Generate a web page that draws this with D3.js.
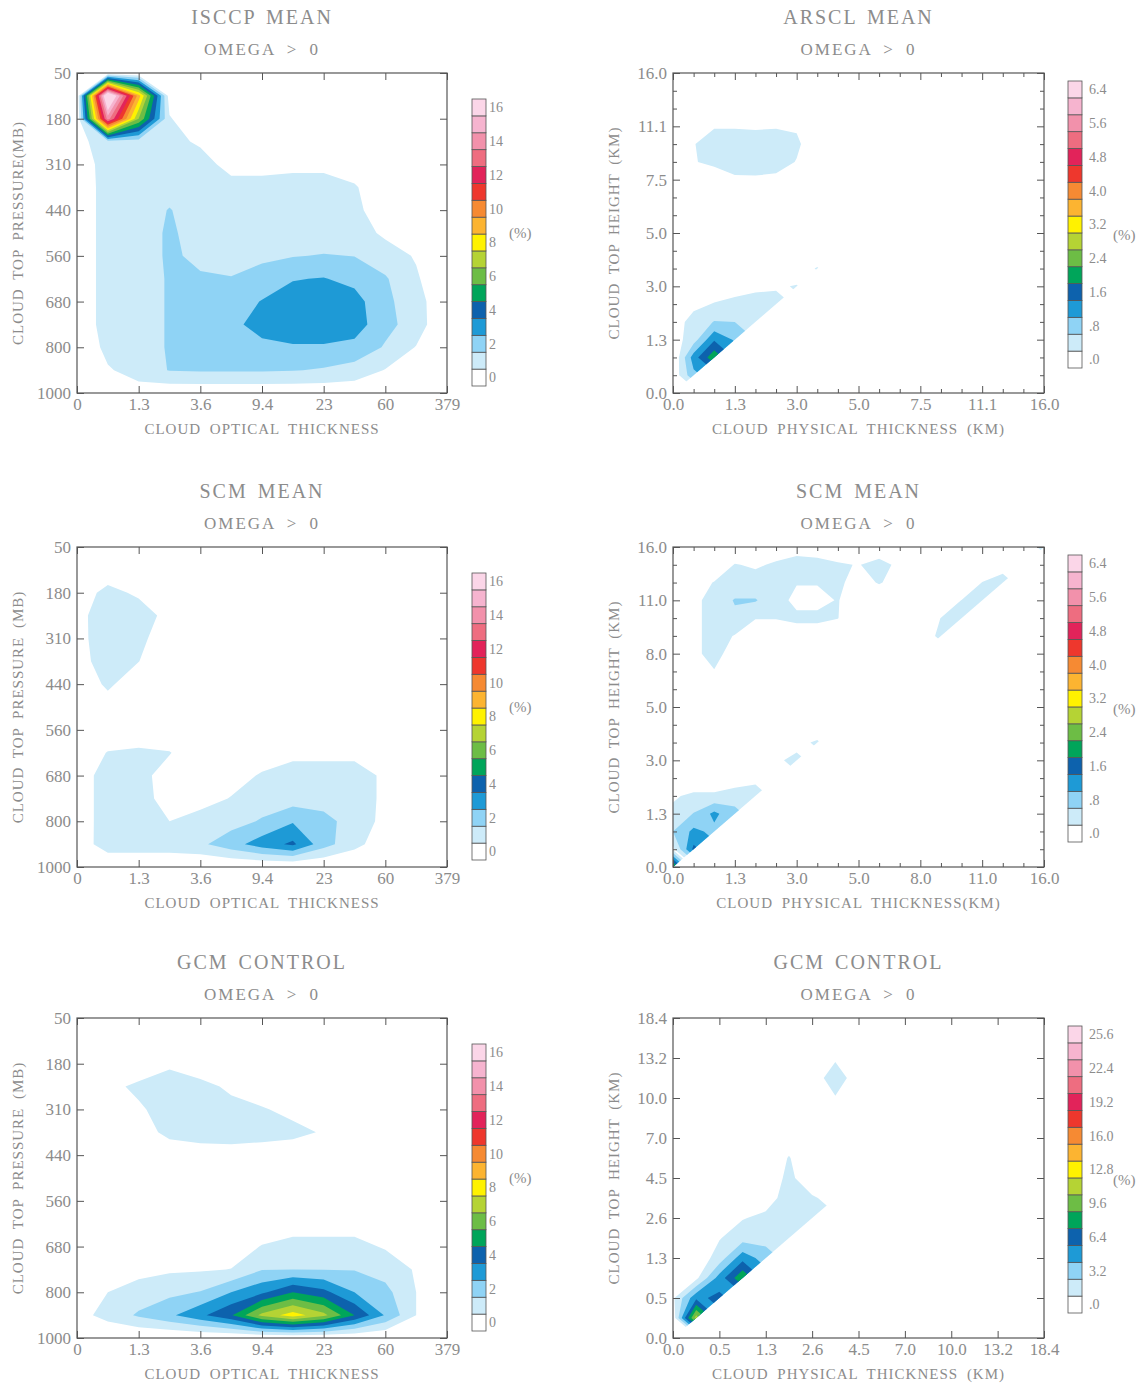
<!DOCTYPE html>
<html>
<head>
<meta charset="utf-8">
<script src="https://cdn.jsdelivr.net/npm/d3@7"></script>
<style>
  body { margin: 0; background: #fff; }
  svg text { font-family: "Liberation Serif", "DejaVu Serif", serif; fill: #8c8c8c; }
</style>
</head>
<body>
<svg id="chart" width="1148" height="1389"></svg>
<script>
// colour for each contour level, index 0 = below first level
const levelColors = ['#ffffff', '#cdebf9', '#8fd3f5', '#1e9ad6', '#0d62ad', '#00a55a', '#6dbd45', '#b5d334',
  '#fff200', '#fcb431', '#f68a33', '#ee372d', '#e2235a', '#ee6d80', '#f291ab', '#f6b4cf', '#fbd6e8']

// axis tick labels
const opticalTicks = ['0', '1.3', '3.6', '9.4', '23', '60', '379']
const pressureTicks = ['1000', '800', '680', '560', '440', '310', '180', '50']
const arsclTicks = ['0.0', '1.3', '3.0', '5.0', '7.5', '11.1', '16.0']
const scmHeightTicks = ['0.0', '1.3', '3.0', '5.0', '8.0', '11.0', '16.0']
const gcmHeightTicks = ['0.0', '0.5', '1.3', '2.6', '4.5', '7.0', '10.0', '13.2', '18.4']

// colour bar labels (every second box)
const pctLabels = ['0', '2', '4', '6', '8', '10', '12', '14', '16']
const arsclLabels = ['.0', '.8', '1.6', '2.4', '3.2', '4.0', '4.8', '5.6', '6.4']
const gcmHeightLabels = ['.0', '3.2', '6.4', '9.6', '12.8', '16.0', '19.2', '22.4', '25.6']

// frequency (%) on half-bin nodes, rows from 50 mb (top) to 1000 mb (bottom)
const isccpGrid = [
  [0, 0, 0, 0, 0, 0, 0, 0, 0, 0, 0, 0, 0],
  [0, 18.5, 9.5, 0.5, 0, 0, 0, 0, 0, 0, 0, 0, 0],
  [0, 14.5, 7, 1.1, 0, 0, 0, 0, 0, 0, 0, 0, 0],
  [0.7, 1.5, 1.5, 1.5, 0.75, 0, 0, 0, 0, 0, 0, 0, 0],
  [0.3, 1.5, 1.5, 1.5, 1.7, 0.4, 0.5, 0.7, 0.7, 0.5, 0, 0, 0],
  [0.2, 1.5, 1.5, 1.6, 1.7, 1.6, 1.5, 1.5, 1.5, 1.1, 0.3, 0, 0],
  [0.2, 1.5, 1.5, 2.05, 1.5, 1.5, 1.5, 1.5, 1.5, 1.3, 0.3, 0, 0],
  [0.2, 1.5, 1.5, 2.15, 1.6, 1.5, 1.5, 1.5, 1.5, 1.5, 0.8, 0, 0],
  [0.2, 1.5, 1.5, 2.15, 1.8, 1.6, 1.8, 1.95, 2.05, 1.98, 1.5, 0.9, 0],
  [0.2, 1.5, 1.5, 2.1, 2.1, 2.05, 2.4, 2.95, 3.05, 2.7, 2.1, 1.15, 0],
  [0.2, 1.5, 1.5, 2.1, 2.2, 2.5, 3.05, 3.4, 3.5, 3.4, 2.2, 1.5, 0],
  [0.2, 1.5, 1.5, 2.1, 2.3, 2.8, 3.3, 3.6, 3.6, 3.5, 2.3, 1.55, 0],
  [0.1, 1.3, 1.5, 2.1, 2.3, 2.5, 2.8, 2.9, 2.9, 2.7, 1.9, 0.95, 0],
  [0, 0.9, 1.4, 2.05, 2.1, 2.1, 2.1, 2.05, 1.9, 1.6, 0.95, 0.5, 0],
  [0, 0.3, 0.6, 0.3, 0.3, 0.3, 0.3, 0.3, 0.3, 0.3, 0.2, 0, 0]
]

const scmPressureGrid = [
  [0, 0, 0, 0, 0, 0, 0, 0, 0, 0, 0, 0, 0],
  [0, 0.3, 0.2, 0, 0, 0, 0, 0, 0, 0, 0, 0, 0],
  [0.37, 1.35, 0.8, 0.2, 0, 0, 0, 0, 0, 0, 0, 0, 0],
  [0.67, 1.6, 1.6, 0.6, 0, 0, 0, 0, 0, 0, 0, 0, 0],
  [0.65, 1.6, 1.3, 0.3, 0, 0, 0, 0, 0, 0, 0, 0, 0],
  [0.5, 1.6, 1.02, 0.2, 0, 0, 0, 0, 0, 0, 0, 0, 0],
  [0.2, 1.2, 0.3, 0, 0, 0, 0, 0, 0, 0, 0, 0, 0],
  [0, 0.5, 0, 0, 0, 0, 0, 0, 0, 0, 0, 0, 0],
  [0.3, 0.3, 0.3, 0.3, 0, 0, 0, 0, 0, 0, 0, 0, 0],
  [0.3, 1.05, 1.2, 1.05, 0.3, 0.3, 0.5, 0.7, 0.7, 0.7, 0.5, 0.2, 0],
  [0.4, 1.5, 1.3, 0.6, 0.3, 0.6, 1.1, 1.5, 1.5, 1.5, 0.8, 0.2, 0],
  [0.4, 1.5, 1.3, 0.7, 0.6, 1.05, 1.5, 1.5, 1.6, 1.5, 0.8, 0.2, 0],
  [0.4, 1.5, 1.4, 1.0, 1.4, 1.6, 2.1, 2.9, 2.3, 1.6, 0.7, 0.2, 0],
  [0.3, 1.6, 1.6, 1.6, 1.8, 2.6, 3.5, 4.2, 2.4, 1.3, 0.4, 0, 0],
  [0, 0, 0, 0, 0, 0, 0, 0, 0, 0, 0, 0, 0]
]

const gcmPressureGrid = [
  [0, 0, 0, 0, 0, 0, 0, 0, 0, 0, 0, 0, 0],
  [0, 0, 0, 0, 0, 0, 0, 0, 0, 0, 0, 0, 0],
  [0, 0, 0, 0.8, 0, 0, 0, 0, 0, 0, 0, 0, 0],
  [0, 0.6, 1.3, 1.6, 1.5, 0.7, 0.3, 0, 0, 0, 0, 0, 0],
  [0, 0.2, 0.8, 1.6, 1.6, 1.5, 1.1, 0.7, 0.3, 0, 0, 0, 0],
  [0, 0, 0.4, 1.35, 1.64, 1.55, 1.38, 1.3, 0.9, 0, 0, 0, 0],
  [0, 0, 0, 0.2, 0.3, 0.5, 0.5, 0.3, 0.2, 0, 0, 0, 0],
  [0, 0, 0, 0, 0, 0, 0, 0, 0, 0, 0, 0, 0],
  [0, 0, 0, 0, 0, 0, 0, 0, 0, 0, 0, 0, 0],
  [0, 0, 0, 0, 0, 0.2, 0.4, 0.6, 0.6, 0.6, 0.3, 0, 0],
  [0, 0, 0, 0.2, 0.3, 0.5, 1.05, 1.3, 1.3, 1.3, 0.9, 0.5, 0],
  [0, 0.5, 0.7, 0.85, 0.9, 1.02, 1.95, 1.98, 1.97, 1.95, 1.6, 0.9, 0],
  [0, 1.0, 1.4, 1.75, 2.05, 3.0, 3.8, 5.0, 4.3, 3.0, 2.3, 1.0, 0],
  [0.6, 1.375, 2.14, 2.8, 3.77, 4.9, 7.3, 8.5, 7.3, 5.0, 2.9, 1.0, 0],
  [0, 0, 0, 0, 0, 0, 0, 0, 0, 0, 0, 0, 0]
]

// [thickness node, top-height node, %] ; nodes every third of a tick, top >= thickness
const arsclCells = [
  [0, 0, 0.2], [0, 1, 0.1], [0, 2, 0], [0, 3, 0.2], [0, 4, 0.2], [0, 5, 0.1],
  [1, 1, 1.1], [1, 2, 1.4], [1, 3, 0.62], [1, 4, 0.55], [1, 5, 0.3],
  [2, 2, 2.3], [2, 3, 1.55], [2, 4, 0.82], [2, 5, 0.42], [2, 6, 0.2],
  [3, 3, 1.15], [3, 4, 0.8], [3, 5, 0.5], [3, 6, 0.25],
  [4, 4, 0.78], [4, 5, 0.55], [4, 6, 0.32], [4, 7, 0.15],
  [5, 5, 0.52], [5, 6, 0.36], [5, 7, 0.15],
  [6, 6, 0.42], [6, 7, 0.2], [7, 7, 0.43], [7, 8, 0.1],
  [1, 12, 0.1], [3, 12, 0.33], [4, 12, 0.34], [5, 12, 0.3], [6, 12, 0.1],
  [1, 13, 0.36], [2, 13, 0.55], [3, 13, 0.6], [4, 13, 0.6], [5, 13, 0.58], [6, 13, 0.38],
  [1, 14, 0.38], [2, 14, 0.6], [3, 14, 0.6], [4, 14, 0.6], [5, 14, 0.6], [6, 14, 0.48], [7, 14, 0.1],
  [1, 15, 0.2], [2, 15, 0.37], [3, 15, 0.37], [4, 15, 0.35], [5, 15, 0.37], [6, 15, 0.35]
]

const scmHeightCells = [
  [0, 0, 2.6], [0, 1, 0.3], [0, 2, 0.8], [0, 3, 0.45], [0, 4, 0.37], [0, 5, 0.1],
  [1, 1, 1.7], [1, 2, 1.3], [1, 3, 0.82], [1, 4, 0.45], [1, 5, 0.2],
  [2, 2, 1.1], [2, 3, 1.3], [2, 4, 0.45], [2, 5, 0.2],
  [3, 3, 0.9], [3, 4, 0.65], [3, 5, 0.1],
  [4, 4, 0.75], [4, 5, 0.2],
  [5, 5, 0.35], [5, 6, 0.35], [6, 6, 0.48], [6, 7, 0.3], [7, 7, 0.45], [7, 8, 0.1], [8, 8, 0.2],
  [12, 12, 0.2], [12, 13, 0.15], [13, 13, 0.5], [14, 14, 0.52], [15, 15, 0.52], [16, 16, 0.5],
  [17, 17, 0.36], [18, 18, 0.5],
  [13, 14, 0.41], [14, 15, 0.41], [15, 16, 0.41], [16, 17, 0.3], [17, 18, 0.2],
  [1, 11, 0.2], [2, 11, 0.38], [3, 11, 0.1],
  [1, 12, 0.3], [2, 12, 0.55], [3, 12, 0.2],
  [1, 13, 0.3], [2, 13, 0.55], [3, 13, 0.38], [4, 13, 0.1], [5, 13, 0.1], [6, 13, 0.2], [7, 13, 0.2],
  [8, 13, 0.1],
  [1, 14, 0.3], [2, 14, 0.55], [3, 14, 0.72], [4, 14, 0.42], [5, 14, 0.42], [6, 14, 0.48], [7, 14, 0.48],
  [8, 14, 0.41], [9, 14, 0.1],
  [1, 15, 0.3], [2, 15, 0.55], [3, 15, 0.83], [4, 15, 0.83], [5, 15, 0.55], [6, 15, 0.3], [7, 15, 0.3],
  [8, 15, 0.42], [9, 15, 0.15], [10, 15, 0.2],
  [1, 16, 0.2], [2, 16, 0.42], [3, 16, 0.55], [4, 16, 0.55], [5, 16, 0.6], [6, 16, 0.42], [7, 16, 0.42],
  [8, 16, 0.45], [9, 16, 0.3], [10, 16, 0.42], [11, 16, 0.3],
  [2, 17, 0.1], [3, 17, 0.42], [4, 17, 0.35], [5, 17, 0.45], [6, 17, 0.5], [7, 17, 0.5], [8, 17, 0.45],
  [9, 17, 0.38], [10, 17, 0.55], [11, 17, 0.3],
  [3, 18, 0.1], [4, 18, 0.1], [5, 18, 0.2], [6, 18, 0.3], [7, 18, 0.25], [8, 18, 0.1], [9, 18, 0.1], [10, 18, 0.1]
]

// nodes every half tick
const gcmHeightCells = [
  [0, 0, 1.0], [0, 1, 0.5], [0, 2, 1.3], [0, 3, 0.3],
  [1, 1, 12.0], [1, 2, 6.0], [1, 3, 1.2], [1, 4, 0.5], [1, 5, 0.3],
  [2, 2, 6.8], [2, 3, 5.5], [2, 4, 2.3], [2, 5, 1.5], [2, 6, 0.5],
  [3, 3, 9.4], [3, 4, 5.8], [3, 5, 2.5], [3, 6, 1.5], [3, 7, 0.5],
  [4, 4, 4.0], [4, 5, 2.6], [4, 6, 2.0], [4, 7, 0.8], [4, 8, 0.5], [4, 9, 0.3],
  [5, 5, 2.5], [5, 6, 2.5], [5, 7, 2.4], [5, 8, 2.0], [5, 9, 1.7], [5, 10, 0.8],
  [6, 6, 2.2], [6, 7, 1.8], [6, 8, 0.5], [6, 9, 0.3],
  [7, 7, 1.0], [7, 8, 0.3],
  [6, 12, 0.5], [7, 12, 1.5], [8, 12, 0.5], [6, 13, 0.8], [7, 13, 2.4], [8, 13, 0.8],
  [6, 14, 0.4], [7, 14, 1.4], [8, 14, 0.4], [7, 15, 0.2]
]

const TEXT = '#8c8c8c'
const LINE = '#555'
const rowTops = [73, 547, 1018]
const plotH = 320

const svg = d3.select('#chart')
const defs = svg.append('defs')

// sparse upper-triangle nodes -> full grid, mirrored below the diagonal (hidden by clip)
function cellsToGrid(cells, n) {
  const values = new Array(n * n).fill(0)
  for (const [i, j, v] of cells) {
    values[(n - 1 - j) * n + i] = v
    if (i !== j) values[(n - 1 - i) * n + j] = v
  }
  return values
}

const panels = [
  { id: 'a', col: 0, row: 0, title: 'ISCCP MEAN', xLabels: opticalTicks, yLabels: pressureTicks,
    xTitle: 'CLOUD OPTICAL THICKNESS', yTitle: 'CLOUD TOP PRESSURE(MB)',
    values: isccpGrid.flat(), gx: 13, gy: 15, unit: 1, cbLabels: pctLabels },
  { id: 'b', col: 1, row: 0, title: 'ARSCL MEAN', xLabels: arsclTicks, yLabels: arsclTicks,
    xTitle: 'CLOUD PHYSICAL THICKNESS (KM)', yTitle: 'CLOUD TOP HEIGHT (KM)', diagonal: true, minor: 3,
    values: cellsToGrid(arsclCells, 19), gx: 19, gy: 19, unit: 0.4, cbLabels: arsclLabels },
  { id: 'c', col: 0, row: 1, title: 'SCM MEAN', xLabels: opticalTicks, yLabels: pressureTicks,
    xTitle: 'CLOUD OPTICAL THICKNESS', yTitle: 'CLOUD TOP PRESSURE (MB)',
    values: scmPressureGrid.flat(), gx: 13, gy: 15, unit: 1, cbLabels: pctLabels },
  { id: 'd', col: 1, row: 1, title: 'SCM MEAN', xLabels: scmHeightTicks, yLabels: scmHeightTicks,
    xTitle: 'CLOUD PHYSICAL THICKNESS(KM)', yTitle: 'CLOUD TOP HEIGHT (KM)', diagonal: true, minor: 3,
    values: cellsToGrid(scmHeightCells, 19), gx: 19, gy: 19, unit: 0.4, cbLabels: arsclLabels },
  { id: 'e', col: 0, row: 2, title: 'GCM CONTROL', xLabels: opticalTicks, yLabels: pressureTicks,
    xTitle: 'CLOUD OPTICAL THICKNESS', yTitle: 'CLOUD TOP PRESSURE (MB)',
    values: gcmPressureGrid.flat(), gx: 13, gy: 15, unit: 1, cbLabels: pctLabels },
  { id: 'f', col: 1, row: 2, title: 'GCM CONTROL', xLabels: gcmHeightTicks, yLabels: gcmHeightTicks,
    xTitle: 'CLOUD PHYSICAL THICKNESS (KM)', yTitle: 'CLOUD TOP HEIGHT (KM)', diagonal: true,
    values: cellsToGrid(gcmHeightCells, 17), gx: 17, gy: 17, unit: 1.6, cbLabels: gcmHeightLabels }
]

function styleAxis(sel, size) {
  sel.attr('font-family', null).attr('font-size', size).attr('color', LINE)
  sel.select('.domain').remove()
  sel.selectAll('text').attr('fill', TEXT)
  sel.selectAll('line').attr('stroke-width', 1)
}

function drawPanel(p) {
  const [x0, x1] = p.col === 0 ? [77, 447] : [673, 1044]
  const top = rowTops[p.row], bottom = top + plotH
  const nx = p.xLabels.length - 1, ny = p.yLabels.length - 1
  const x = d3.scaleLinear().domain([0, nx]).range([x0, x1])
  const y = d3.scaleLinear().domain([0, ny]).range([bottom, top])
  const g = svg.append('g')

  // clip: plot box, or the part above the thickness = height diagonal
  const clipId = 'clip-' + p.id
  const clip = defs.append('clipPath').attr('id', clipId)
  if (p.diagonal) {
    clip.append('polygon').attr('points',
      [[x(0), y(0)], [x(nx), y(ny)], [x(0), y(ny)]].map(d => d.join(',')).join(' '))
  } else {
    clip.append('rect').attr('x', x0).attr('y', top).attr('width', x1 - x0).attr('height', plotH)
  }

  // filled contours
  const step = nx / (p.gx - 1)
  const thresholds = d3.range(1, 17).map(k => k * p.unit)
  const contours = d3.contours().size([p.gx, p.gy]).thresholds(thresholds)(p.values)
  const proj = d3.geoTransform({
    point(cx, cy) {
      this.stream.point(x((cx - 0.5) * step), y((p.gy - 0.5 - cy) * step))
    }
  })
  const path = d3.geoPath(proj)
  g.append('g').attr('clip-path', `url(#${clipId})`)
    .selectAll('path').data(contours).join('path')
    .attr('d', path)
    .attr('fill', (d, k) => levelColors[k + 1])

  // axes with inward ticks on all four sides
  const major = d3.range(nx + 1)
  const majorY = d3.range(ny + 1)
  g.append('g').attr('transform', `translate(0,${bottom})`)
    .call(d3.axisBottom(x).tickValues(major).tickFormat(i => p.xLabels[i]).tickSize(-7).tickPadding(5))
    .call(s => styleAxis(s, 17))
  g.append('g').attr('transform', `translate(0,${top})`)
    .call(d3.axisTop(x).tickValues(major).tickFormat('').tickSize(-7))
    .call(s => styleAxis(s, 17))
  g.append('g').attr('transform', `translate(${x0},0)`)
    .call(d3.axisLeft(y).tickValues(majorY).tickFormat(i => p.yLabels[i]).tickSize(-7).tickPadding(6))
    .call(s => styleAxis(s, 17))
  g.append('g').attr('transform', `translate(${x1},0)`)
    .call(d3.axisRight(y).tickValues(majorY).tickFormat('').tickSize(-7))
    .call(s => styleAxis(s, 17))

  if (p.minor) {
    const mx = d3.range(nx * p.minor + 1).filter(i => i % p.minor).map(i => i / p.minor)
    const my = d3.range(ny * p.minor + 1).filter(i => i % p.minor).map(i => i / p.minor)
    g.append('g').attr('transform', `translate(0,${bottom})`)
      .call(d3.axisBottom(x).tickValues(mx).tickFormat('').tickSize(-4)).call(s => styleAxis(s, 17))
    g.append('g').attr('transform', `translate(0,${top})`)
      .call(d3.axisTop(x).tickValues(mx).tickFormat('').tickSize(-4)).call(s => styleAxis(s, 17))
    g.append('g').attr('transform', `translate(${x0},0)`)
      .call(d3.axisLeft(y).tickValues(my).tickFormat('').tickSize(-4)).call(s => styleAxis(s, 17))
    g.append('g').attr('transform', `translate(${x1},0)`)
      .call(d3.axisRight(y).tickValues(my).tickFormat('').tickSize(-4)).call(s => styleAxis(s, 17))
  }

  g.append('rect')
    .attr('x', x0).attr('y', top).attr('width', x1 - x0).attr('height', plotH)
    .attr('fill', 'none').attr('stroke', LINE).attr('stroke-width', 1.2)

  // titles
  const cx = (x0 + x1) / 2
  g.append('text').attr('x', cx).attr('y', top - 49).attr('text-anchor', 'middle')
    .attr('font-size', 20).attr('letter-spacing', 2).attr('word-spacing', 3).text(p.title)
  g.append('text').attr('x', cx).attr('y', top - 18).attr('text-anchor', 'middle')
    .attr('font-size', 17).attr('letter-spacing', 2).attr('word-spacing', 5).text('OMEGA > 0')
  g.append('text').attr('x', cx).attr('y', bottom + 41).attr('text-anchor', 'middle')
    .attr('font-size', 15).attr('letter-spacing', 1).attr('word-spacing', 4).text(p.xTitle)
  const ytx = p.col === 0 ? 18 : 614
  g.append('text').attr('transform', `translate(${ytx},${(top + bottom) / 2}) rotate(-90)`)
    .attr('text-anchor', 'middle').attr('dy', '0.35em')
    .attr('font-size', 15).attr('letter-spacing', 1).attr('word-spacing', 4).text(p.yTitle)

  // colour bar
  const cbX = p.col === 0 ? 472 : 1068
  const cbTop = p.col === 0 ? top + 26 : top + 8
  const cbH = 287
  const band = d3.scaleBand().domain(d3.range(17)).range([cbTop + cbH, cbTop])
  const cb = g.append('g')
  cb.selectAll('rect').data(d3.range(17)).join('rect')
    .attr('x', cbX).attr('y', k => band(k)).attr('width', 14).attr('height', band.bandwidth())
    .attr('fill', k => levelColors[k]).attr('stroke', LINE).attr('stroke-width', 0.8)
  const lx = cbX + (p.col === 0 ? 17 : 21)
  cb.selectAll('text.cbl').data(p.cbLabels).join('text').attr('class', 'cbl')
    .attr('x', lx).attr('y', (d, i) => band(i * 2) + band.bandwidth() / 2)
    .attr('dy', '0.35em').attr('font-size', 14).text(d => d)
  const pctX = p.col === 0 ? 509 : 1113
  const pctY = band(8) + band.bandwidth() / 2 + (p.col === 0 ? -10 : 10)
  cb.append('text').attr('x', pctX).attr('y', pctY).attr('dy', '0.35em')
    .attr('font-size', 15).text('(%)')
}

panels.forEach(drawPanel)
</script>
</body>
</html>
